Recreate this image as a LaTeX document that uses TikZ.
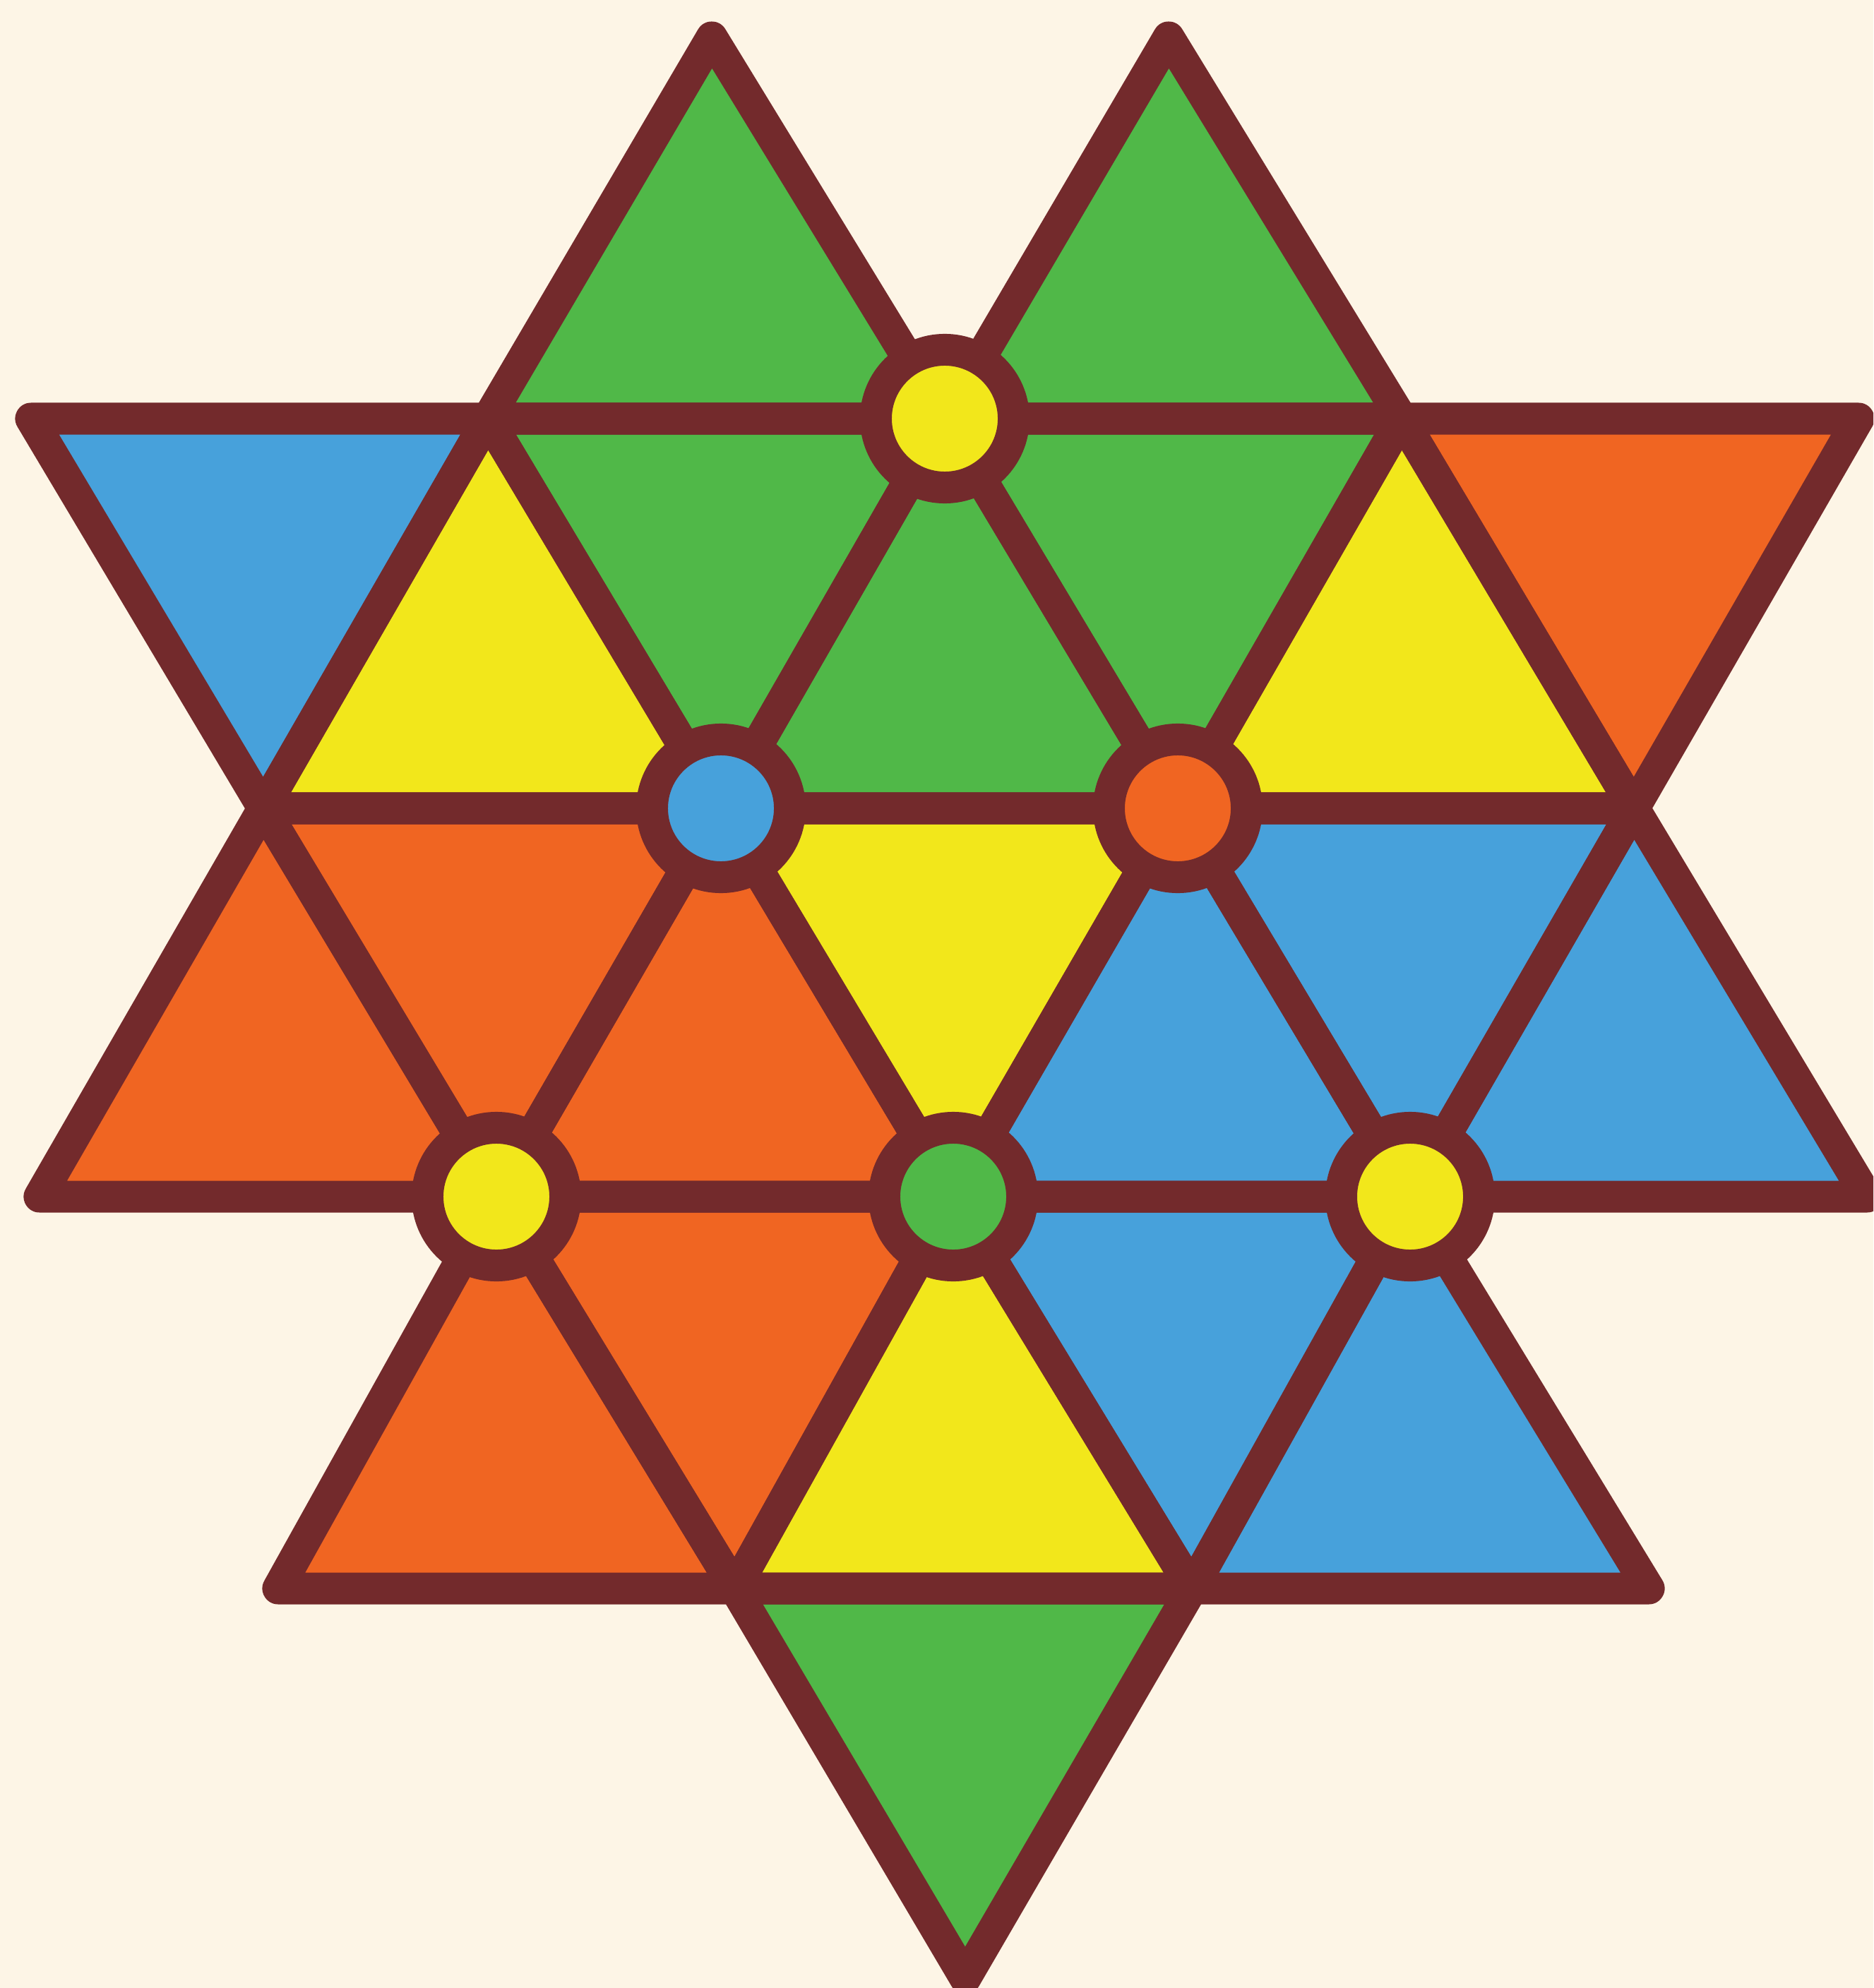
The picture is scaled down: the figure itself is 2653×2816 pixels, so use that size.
\documentclass[tikz,border=0pt]{standalone}
\definecolor{bg}{HTML}{FDF5E6}
\definecolor{brn}{HTML}{732A2C}
\definecolor{gr}{HTML}{50B848}
\definecolor{bl}{HTML}{47A1DB}
\definecolor{yl}{HTML}{F2E71B}
\definecolor{og}{HTML}{F06522}
\tikzset{
  edge/.style={draw=brn, line width=0.45cm, line join=round, line cap=round},
  dot/.style={circle, draw=brn, line width=0.45cm, minimum size=1.95cm, inner sep=0pt}
}
\begin{document}
\begin{tikzpicture}[x=0.01cm,y=-0.01cm]
\useasboundingbox (0,0) rectangle (2653,2816);
\clip (0,0) rectangle (2653,2816);
\fill[bg] (0,0) rectangle (2653,2816);
% lattice points
\coordinate (m0) at (1008,53);
\coordinate (m1) at (1655,53);
\coordinate (a0) at (44,593);
\coordinate (a1) at (691,593);
\coordinate (a2) at (1338,593);
\coordinate (a3) at (1985,593);
\coordinate (a4) at (2632,593);
\coordinate (b0) at (373,1145);
\coordinate (b1) at (1021,1145);
\coordinate (b2) at (1668,1145);
\coordinate (b3) at (2314,1145);
\coordinate (c0) at (56,1695);
\coordinate (c1) at (703,1695);
\coordinate (c2) at (1350,1695);
\coordinate (c3) at (1997,1695);
\coordinate (c4) at (2644,1695);
\coordinate (d0) at (394,2250);
\coordinate (d1) at (1041,2250);
\coordinate (d2) at (1688,2250);
\coordinate (d3) at (2335,2250);
\coordinate (e0) at (1367,2802);
\def\tris{m0/a1/a2/gr, m1/a2/a3/gr,
  a0/a1/b0/bl, b0/b1/a1/yl, a1/a2/b1/gr, b1/b2/a2/gr, a2/a3/b2/gr, b2/b3/a3/yl, a3/a4/b3/og,
  c0/c1/b0/og, b0/b1/c1/og, c1/c2/b1/og, b1/b2/c2/yl, c2/c3/b2/bl, b2/b3/c3/bl, c3/c4/b3/bl,
  d0/d1/c1/og, c1/c2/d1/og, d1/d2/c2/yl, c2/c3/d2/bl, d2/d3/c3/bl,
  d1/d2/e0/gr}
\foreach \p/\q/\r/\c in \tris { \fill[\c] (\p) -- (\q) -- (\r) -- cycle; }
\foreach \p/\q/\r/\c in \tris { \draw[edge] (\p) -- (\q) -- (\r) -- cycle; }
% junction circles
\node[dot, fill=yl] (k1) at (a2) {};
\node[dot, fill=bl] (k2) at (b1) {};
\node[dot, fill=og] (k3) at (b2) {};
\node[dot, fill=yl] (k4) at (c1) {};
\node[dot, fill=gr] (k5) at (c2) {};
\node[dot, fill=yl] (k6) at (c3) {};
\end{tikzpicture}
\end{document}
